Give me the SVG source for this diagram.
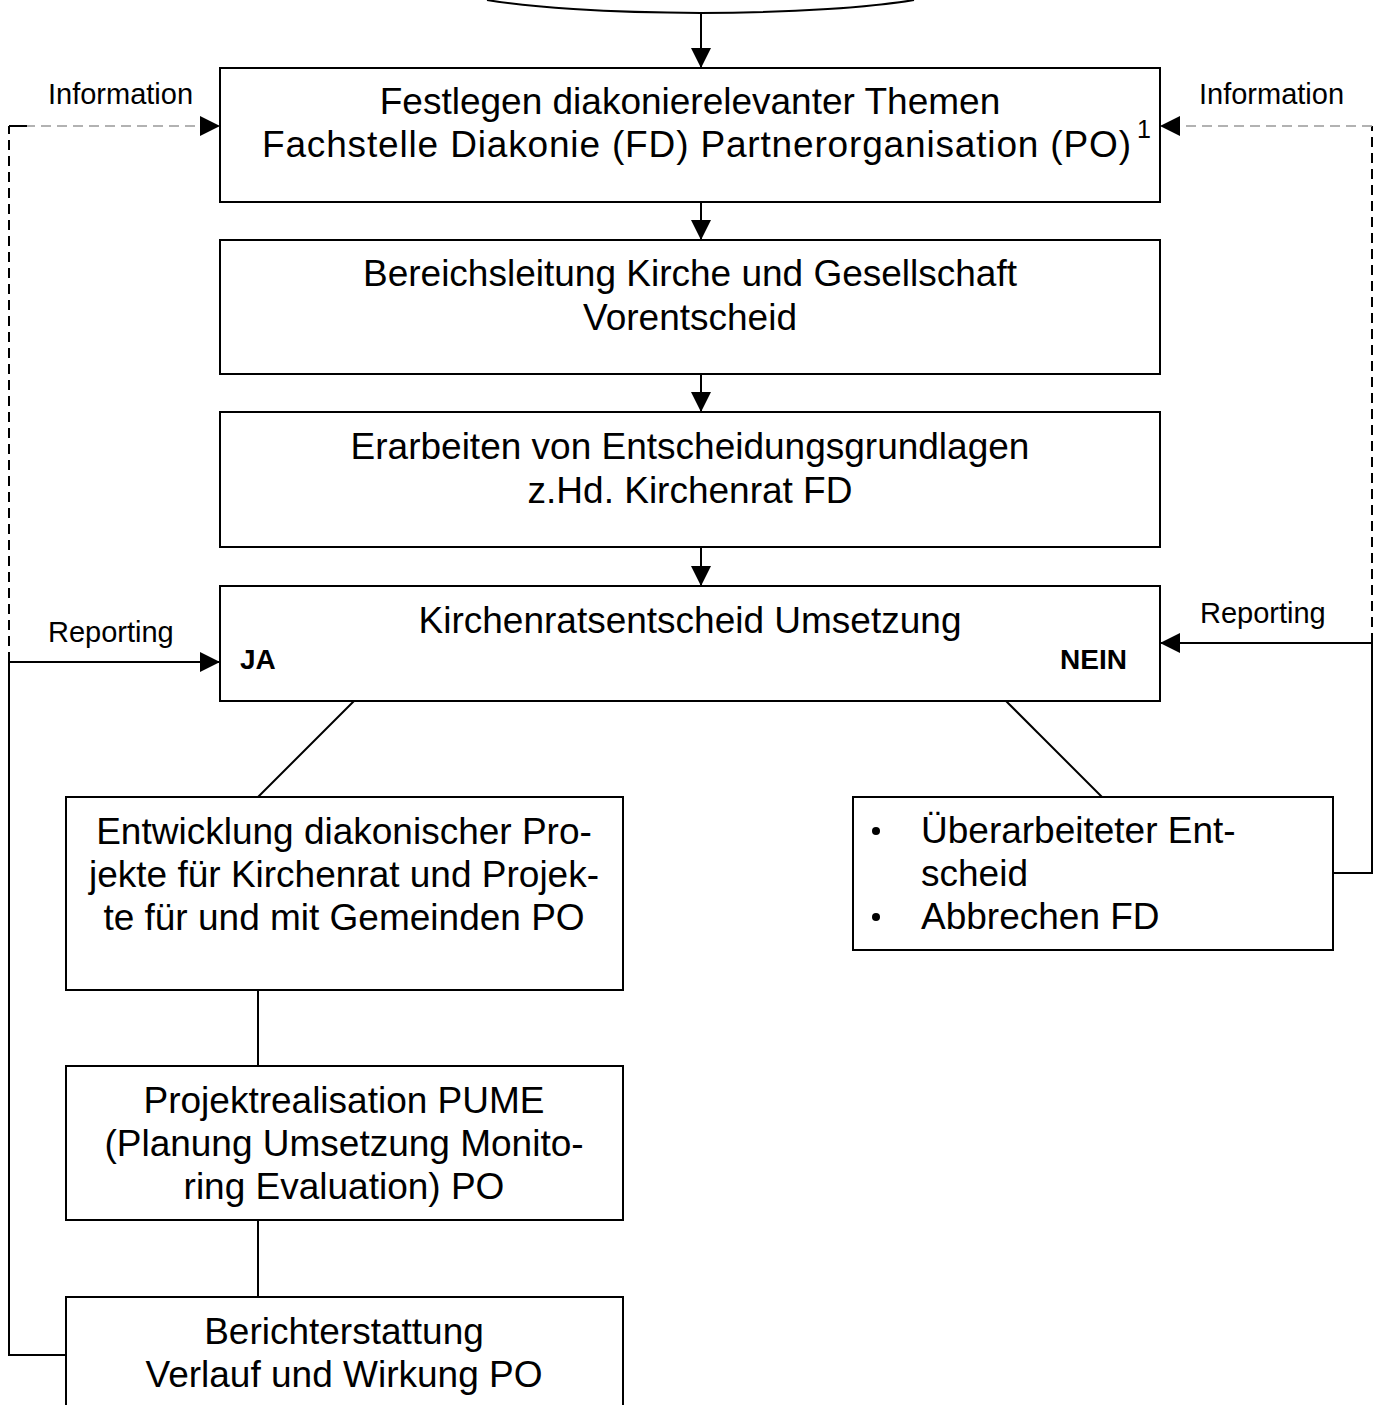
<svg xmlns="http://www.w3.org/2000/svg" width="1378" height="1405" viewBox="0 0 1378 1405">
<style>
.box{fill:#fff;stroke:#000;stroke-width:2}
.t{font-family:"Liberation Sans",Arial,sans-serif;font-size:37px;fill:#000;text-anchor:middle}
.tl{font-family:"Liberation Sans",Arial,sans-serif;font-size:37px;fill:#000}
.sup{font-family:"Liberation Sans",Arial,sans-serif;font-size:25px;fill:#000}
.lbl{font-family:"Liberation Sans",Arial,sans-serif;font-size:29px;fill:#000}
.b{font-family:"Liberation Sans",Arial,sans-serif;font-size:28px;font-weight:bold;fill:#000}
.ln{fill:none;stroke:#000;stroke-width:2}
.dv{fill:none;stroke:#000;stroke-width:2;stroke-dasharray:10 6}
.dh{fill:none;stroke:#999;stroke-width:1.5;stroke-dasharray:10 6}
</style>
<defs>
<marker id="ah" markerUnits="userSpaceOnUse" markerWidth="20" markerHeight="20" refX="20" refY="10" orient="auto">
<path d="M0,0 L20,10 L0,20 Z" fill="#000"/>
</marker>
</defs>
<rect width="1378" height="1405" fill="#fff"/>
<g id="start">
<path class="ln" d="M487,0 A260,30 0 0 0 914,0"/>
</g>
<g id="connectors">
<line class="ln" x1="701" y1="12" x2="701" y2="68" marker-end="url(#ah)"/>
<line class="ln" x1="701" y1="202" x2="701" y2="240" marker-end="url(#ah)"/>
<line class="ln" x1="701" y1="374" x2="701" y2="412" marker-end="url(#ah)"/>
<line class="ln" x1="701" y1="547" x2="701" y2="586" marker-end="url(#ah)"/>
<line class="ln" x1="354" y1="701" x2="258" y2="797"/>
<line class="ln" x1="1006" y1="701" x2="1102" y2="797"/>
<line class="ln" x1="258" y1="990" x2="258" y2="1066"/>
<line class="ln" x1="258" y1="1220" x2="258" y2="1297"/>
<polyline class="ln" points="66,1355 9,1355 9,662 220,662" marker-end="url(#ah)"/>
<line class="dv" x1="9" y1="662" x2="9" y2="126"/>
<line class="dh" x1="9" y1="126" x2="220" y2="126" marker-end="url(#ah)"/>
<line class="ln" x1="9" y1="126" x2="27" y2="126"/>
<polyline class="ln" points="1333,873 1372,873 1372,643 1160,643" marker-end="url(#ah)"/>
<line class="dv" x1="1372" y1="643" x2="1372" y2="126"/>
<line class="dh" x1="1372" y1="126" x2="1160" y2="126" marker-end="url(#ah)"/>
<text class="lbl" x="48" y="104">Information</text>
<text class="lbl" x="1199" y="104">Information</text>
<text class="lbl" x="48" y="642">Reporting</text>
<text class="lbl" x="1200" y="623">Reporting</text>
</g>
<g id="n1">
<rect class="box" x="220" y="68" width="940" height="134"/>
<text class="t" x="690" y="114">Festlegen diakonierelevanter Themen</text>
<text class="tl" x="262" y="157" textLength="869" lengthAdjust="spacing">Fachstelle Diakonie (FD) Partnerorganisation (PO)</text>
<text class="sup" x="1137" y="138">1</text>
</g>
<g id="n2">
<rect class="box" x="220" y="240" width="940" height="134"/>
<text class="t" x="690" y="286">Bereichsleitung Kirche und Gesellschaft</text>
<text class="t" x="690" y="330">Vorentscheid</text>
</g>
<g id="n3">
<rect class="box" x="220" y="412" width="940" height="135"/>
<text class="t" x="690" y="459">Erarbeiten von Entscheidungsgrundlagen</text>
<text class="t" x="690" y="503">z.Hd. Kirchenrat FD</text>
</g>
<g id="n4">
<rect class="box" x="220" y="586" width="940" height="115"/>
<text class="t" x="690" y="633">Kirchenratsentscheid Umsetzung</text>
<text class="b" x="240" y="669">JA</text>
<text class="b" x="1127" y="669" text-anchor="end">NEIN</text>
</g>
<g id="n5">
<rect class="box" x="66" y="797" width="557" height="193"/>
<text class="t" x="344" y="844">Entwicklung diakonischer Pro-</text>
<text class="t" x="344" y="887">jekte für Kirchenrat und Projek-</text>
<text class="t" x="344" y="930">te für und mit Gemeinden PO</text>
</g>
<g id="n6">
<rect class="box" x="853" y="797" width="480" height="153"/>
<circle cx="876" cy="831" r="4" fill="#000"/>
<circle cx="876" cy="917" r="4" fill="#000"/>
<text class="tl" x="921" y="843">Überarbeiteter Ent-</text>
<text class="tl" x="921" y="886">scheid</text>
<text class="tl" x="921" y="929">Abbrechen FD</text>
</g>
<g id="n7">
<rect class="box" x="66" y="1066" width="557" height="154"/>
<text class="t" x="344" y="1113">Projektrealisation PUME</text>
<text class="t" x="344" y="1156">(Planung Umsetzung Monito-</text>
<text class="t" x="344" y="1199">ring Evaluation) PO</text>
</g>
<g id="n8">
<rect class="box" x="66" y="1297" width="557" height="140"/>
<text class="t" x="344" y="1344">Berichterstattung</text>
<text class="t" x="344" y="1387">Verlauf und Wirkung PO</text>
</g>
</svg>
